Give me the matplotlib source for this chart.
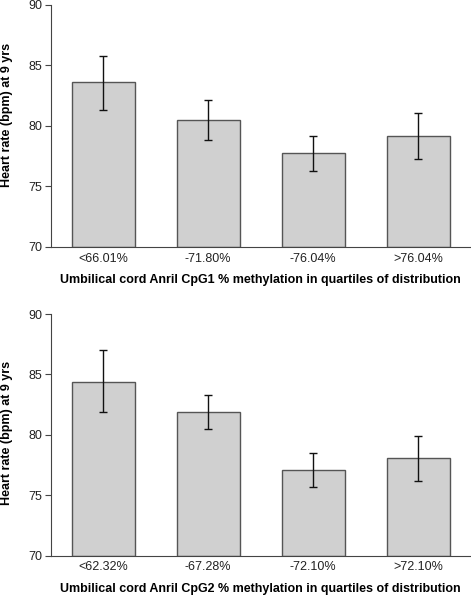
import numpy as np
import matplotlib
matplotlib.use("Agg")
import matplotlib.pyplot as plt

plt.rcParams['font.family'] = ['Liberation Sans', 'DejaVu Sans']

# CpG1 quartiles
cpg1_labels = ["<66.01%", "-71.80%", "-76.04%", ">76.04%"]
cpg1_mean = [83.6, 80.5, 77.8, 79.2]
cpg1_low = [81.3, 78.8, 76.3, 77.3]
cpg1_high = [85.8, 82.1, 79.2, 81.1]

# CpG2 quartiles
cpg2_labels = ["<62.32%", "-67.28%", "-72.10%", ">72.10%"]
cpg2_mean = [84.4, 81.9, 77.1, 78.05]
cpg2_low = [81.9, 80.5, 75.65, 76.2]
cpg2_high = [87.0, 83.3, 78.5, 79.9]

ylabel = "Heart rate (bpm) at 9 yrs"
xlabel1 = "Umbilical cord Anril CpG1 % methylation in quartiles of distribution"
xlabel2 = "Umbilical cord Anril CpG2 % methylation in quartiles of distribution"

fig = plt.figure(figsize=(4.71, 5.97), dpi=100)
ax1 = fig.add_axes([0.1076, 0.5863, 0.892, 0.4057])
ax2 = fig.add_axes([0.1076, 0.0692, 0.892, 0.4048])


def draw(ax, labels, mean, low, high, xlabel, ylab_pos):
    x = np.arange(len(labels))
    mean = np.array(mean)
    err = [mean - np.array(low), np.array(high) - mean]
    ax.bar(x, mean - 70, bottom=70, width=0.6, color="#d0d0d0",
           edgecolor="#555555", linewidth=1.0, zorder=2)
    ax.errorbar(x, mean, yerr=err, fmt="none", ecolor="#111111",
                elinewidth=1.0, capsize=3, capthick=1.0, zorder=3)
    ax.set_xlim(-0.5, 3.5)
    ax.set_ylim(70, 90)
    ax.set_yticks([70, 75, 80, 85, 90])
    ax.set_xticks(x)
    ax.set_xticklabels(labels)
    ax.tick_params(axis="x", length=0, pad=4, labelsize=9, colors="#222222")
    ax.tick_params(axis="y", length=4, width=0.8, pad=2, labelsize=9,
                   colors="#222222", color="#444444")
    for s in ["top", "right"]:
        ax.spines[s].set_visible(False)
    for s in ["left", "bottom"]:
        ax.spines[s].set_color("#444444")
        ax.spines[s].set_linewidth(0.8)
    ax.set_ylabel(ylabel, fontsize=9, fontweight="bold")
    ax.set_xlabel(xlabel, fontsize=9, fontweight="bold", labelpad=7)
    ax.yaxis.set_label_coords(-0.09, ylab_pos)


draw(ax1, cpg1_labels, cpg1_mean, cpg1_low, cpg1_high, xlabel1, 0.545)
draw(ax2, cpg2_labels, cpg2_mean, cpg2_low, cpg2_high, xlabel2, 0.51)

fig.savefig("out.png", dpi=100)
